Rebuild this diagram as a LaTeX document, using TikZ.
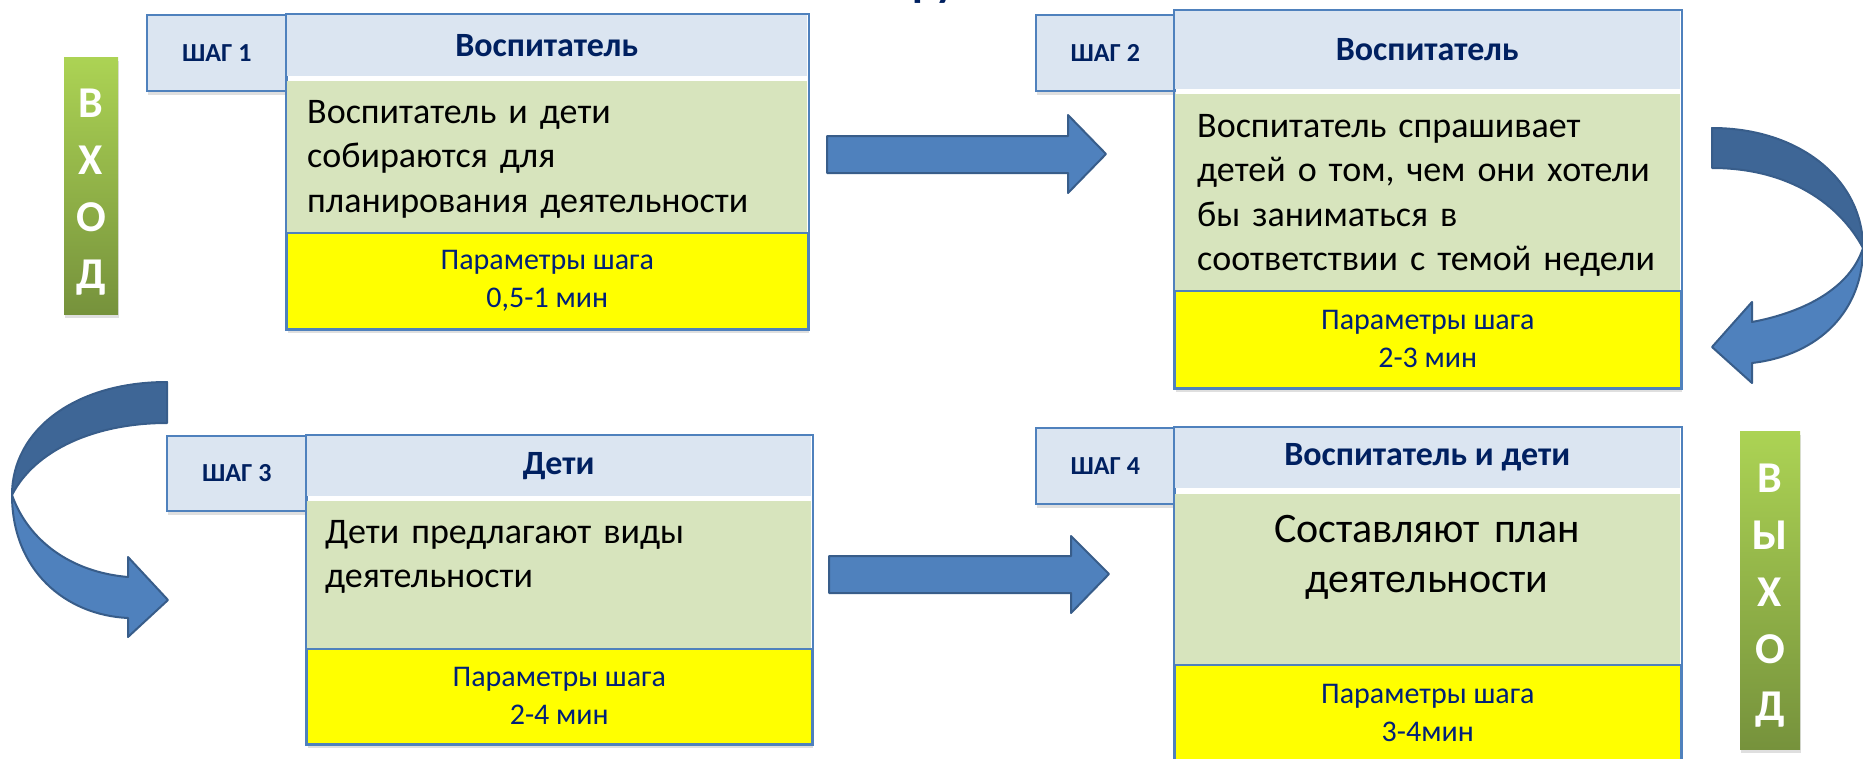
\documentclass[tikz,border=0pt]{standalone}
\usepackage{fontspec}
\setmainfont{Carlito}
\usetikzlibrary{shadows}
\definecolor{stepblue}{RGB}{79,129,189}
\definecolor{arrowedge}{RGB}{56,93,138}
\definecolor{arrowdark}{RGB}{62,102,150}
\definecolor{headfill}{RGB}{219,229,241}
\definecolor{bodyfill}{RGB}{215,228,189}
\definecolor{paramfill}{RGB}{255,255,0}
\definecolor{navy}{RGB}{0,32,96}
\definecolor{paramblue}{RGB}{0,32,120}
\definecolor{bartop}{RGB}{172,211,84}
\definecolor{barmid}{RGB}{150,188,72}
\definecolor{barbot}{RGB}{118,146,60}

\tikzset{
  boxshadow/.style={drop shadow={shadow xshift=1pt, shadow yshift=-4pt, opacity=0.25}},
  steptab/.style={draw=stepblue, line width=1.5pt, fill=headfill, text=navy,
    font=\fontsize{26}{30}\selectfont\bfseries, inner sep=0pt, anchor=north west, boxshadow},
  stephead/.style={fill=headfill, text=navy, font=\fontsize{34}{40}\selectfont\bfseries,
    inner sep=0pt, anchor=north west},
  stepbody/.style={fill=bodyfill, inner sep=0pt, anchor=north west},
  stepparam/.style={draw=stepblue, line width=1.5pt, fill=paramfill, text=paramblue,
    font=\fontsize{30}{38}\selectfont, align=center, inner sep=0pt, anchor=north west, boxshadow},
  stepframe/.style={draw=stepblue, line width=2pt},
  bodytext/.style={font=\fontsize{36}{44.5}\selectfont, text width=490pt, align=left,
    inner sep=0pt, anchor=base west},
  entrybar/.style={top color=bartop, middle color=barmid, bottom color=barbot,
    inner sep=0pt, anchor=north west, boxshadow},
  barletters/.style={text=white, font=\fontsize{44}{57}\selectfont\bfseries, text width=50pt,
    align=center, inner sep=0pt, anchor=base},
  titlefrag/.style={text=navy, font=\fontsize{44}{50}\selectfont\bfseries, inner sep=0pt},
  blockarrow/.style={fill=stepblue, draw=arrowedge, line width=2pt, line join=round},
  bandback/.style={fill=arrowdark, draw=arrowedge, line width=2pt, line join=round},
  bandfront/.style={fill=stepblue, draw=arrowedge, line width=2pt, line join=round}
}

\begin{document}
\begin{tikzpicture}[x=1pt, y=-1pt]
\useasboundingbox (0,0) rectangle (1863,758);
\clip (0,0) rectangle (1863,758);

% cut-off title
\node[titlefrag, anchor=base west] (title) at (912,-4) {ру};

% entry
\node[entrybar, minimum width=54pt, minimum height=257pt] (inbar) at (64,57) {};
\node[barletters] (inword) at (91,117) {В\\Х\\О\\Д};

% step 1
\node[steptab, minimum width=140pt, minimum height=76pt] (t1) at (146,14) {ШАГ 1};
\node[stephead, minimum width=521pt, minimum height=62pt] (h1) at (286,14) {Воспитатель};
\node[stepbody, minimum width=521pt, minimum height=151pt] (g1) at (286,81) {};
\node[stepparam, minimum width=521pt, minimum height=96pt] (p1) at (286,232) {Параметры шага\\0,5-1 мин};
\draw[stepframe] (h1.north west) rectangle (p1.south east);
\node[bodytext] (d1) at (307,123) {Воспитатель и дети\\собираются для\\планирования деятельности};

% step 2
\node[steptab, minimum width=139pt, minimum height=76pt] (t2) at (1035,14) {ШАГ 2};
\node[stephead, minimum width=506pt, minimum height=79pt] (h2) at (1174,10) {Воспитатель};
\node[stepbody, minimum width=506pt, minimum height=196pt] (g2) at (1174,94) {};
\node[stepparam, minimum width=506pt, minimum height=97pt] (p2) at (1174,290) {Параметры шага\\2-3 мин};
\draw[stepframe] (h2.north west) rectangle (p2.south east);
\node[bodytext] (d2) at (1197,137) {Воспитатель спрашивает\\детей о том, чем они хотели\\бы заниматься в\\соответствии с темой недели};

% step 3
\node[steptab, minimum width=140pt, minimum height=75pt] (t3) at (166,435) {ШАГ 3};
\node[stephead, minimum width=505pt, minimum height=61pt] (h3) at (306,435) {Дети};
\node[stepbody, minimum width=505pt, minimum height=147pt] (g3) at (306,501) {};
\node[stepparam, minimum width=505pt, minimum height=95pt] (p3) at (306,648) {Параметры шага\\2-4 мин};
\draw[stepframe] (h3.north west) rectangle (p3.south east);
\node[bodytext] (d3) at (325,543) {Дети предлагают виды\\деятельности};

% step 4
\node[steptab, minimum width=139pt, minimum height=76pt] (t4) at (1035,427) {ШАГ 4};
\node[stephead, minimum width=506pt, minimum height=61pt] (h4) at (1174,427) {Воспитатель и дети};
\node[stepbody, minimum width=506pt, minimum height=170pt] (g4) at (1174,494) {};
\node[stepparam, minimum width=506pt, minimum height=96pt] (p4) at (1174,664) {Параметры шага\\3-4мин};
\draw[stepframe] (h4.north west) rectangle (p4.south east);
\node[bodytext, font=\fontsize{42}{50}\selectfont, align=center, anchor=base] (d4) at (1427,542) {Составляют план\\деятельности};

% exit
\node[entrybar, minimum width=60pt, minimum height=318pt] (outbar) at (1740,431) {};
\node[barletters] (outword) at (1770,492) {В\\Ы\\Х\\О\\Д};

% straight arrows
\draw[blockarrow] (827,136) -- (1068,136) -- (1068,115) -- (1106,154) -- (1068,193) -- (1068,173) -- (827,173) -- cycle;
\draw[blockarrow] (829,556) -- (1071,556) -- (1071,536) -- (1109,574) -- (1071,613) -- (1071,593) -- (829,593) -- cycle;

% curved arrow right
\draw[bandback] (1712,128) .. controls (1800,128) and (1863,180) .. (1863,248)
  .. controls (1840,205) and (1790,168) .. (1712,168) -- cycle;
\draw[bandfront] (1863,248) .. controls (1863,310) and (1820,355) .. (1752,363) -- (1752,383) -- (1712,347)
  -- (1752,302) -- (1752,322) .. controls (1805,312) and (1850,288) .. (1863,248) -- cycle;

% curved arrow left
\draw[bandback] (167,382) .. controls (75,382) and (12,430) .. (12,495)
  .. controls (35,450) and (95,423) .. (167,423) -- cycle;
\draw[bandfront] (12,495) .. controls (12,570) and (65,615) .. (128,618) -- (128,637) -- (168,600)
  -- (128,557) -- (128,577) .. controls (70,572) and (28,540) .. (12,495) -- cycle;
\end{tikzpicture}
\end{document}
